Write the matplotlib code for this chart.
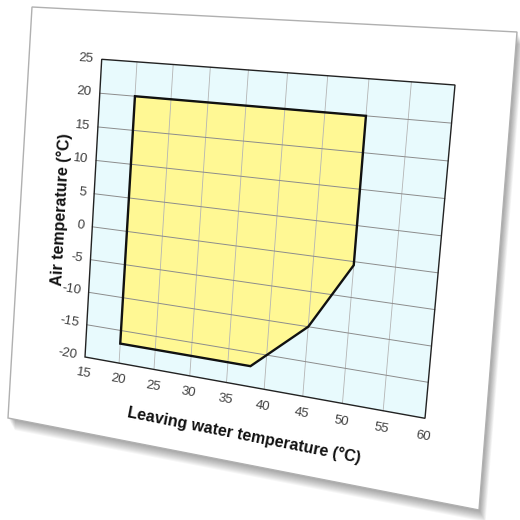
import numpy as np
import matplotlib
matplotlib.use("Agg")
import matplotlib.pyplot as plt
from matplotlib import transforms as mtransforms
from matplotlib.path import Path
from matplotlib.patches import Polygon

# ---------------- data ----------------
lwt_envelope = [20, 50, 50, 45, 38, 20]          # leaving water temperature (°C)
air_envelope = [20, 20, -0.5, -10, -17, -17]     # air temperature (°C)
x_ticks = [15, 20, 25, 30, 35, 40, 45, 50, 55, 60]
y_ticks = [-20, -15, -10, -5, 0, 5, 10, 15, 20, 25]
x_title = "Leaving water temperature (°C)"
y_title = "Air temperature (°C)"

# ---------------- styling / layout ----------------
W = 520
plot_bg = "#e8fafd"
env_fill = "#fff894"
hgrid_col = "#8c8c8c"
vgrid_col = "#b4b4b4"
tick_col = "#404040"
font = ["Liberation Sans", "DejaVu Sans"]

# picture-plane placement of the (tilted) chart: corners of the plot area in pixels
plane_corners_px = [(85, 357), (425, 418.3), (455, 85), (101.7, 59.3)]   # BL, BR, TR, TL
card_px = [(32, 7), (517, 32), (479, 510), (8, 418)]


def homography(src, dst):
    A, b = [], []
    for (x, y), (X, Y) in zip(src, dst):
        A.append([x, y, 1, 0, 0, 0, -X * x, -X * y]); b.append(X)
        A.append([0, 0, 0, x, y, 1, -Y * x, -Y * y]); b.append(Y)
    h = np.linalg.solve(np.array(A, float), np.array(b, float))
    return np.append(h, 1.0).reshape(3, 3)


class Projective(mtransforms.Transform):
    input_dims = 2
    output_dims = 2
    is_separable = False

    def __init__(self, H):
        super().__init__()
        self._H = np.asarray(H, float)

    def transform_non_affine(self, values):
        v = np.asarray(values, float).reshape(-1, 2)
        p = np.column_stack([v, np.ones(len(v))]) @ self._H.T
        return p[:, :2] / p[:, 2:3]

    def transform_path_non_affine(self, path):
        return Path(self.transform_non_affine(path.vertices), path.codes)

    def inverted(self):
        return Projective(np.linalg.inv(self._H))


fig = plt.figure(figsize=(W / 100, W / 100), dpi=100)
fig.patch.set_facecolor("white")
ax = fig.add_axes([0, 0, 1, 1])
ax.set_axis_off()
ax.set_xlim(0, 1)
ax.set_ylim(0, 1)
ax.set_autoscale_on(False)

pix = mtransforms.Affine2D().scale(1 / W, -1 / W).translate(0, 1) + fig.transFigure
H = homography([(0, 0), (1, 0), (1, 1), (0, 1)], plane_corners_px)
xmin, xmax = x_ticks[0], x_ticks[-1]
ymin, ymax = y_ticks[0], y_ticks[-1]
T = (mtransforms.BboxTransformFrom(mtransforms.Bbox.from_extents(xmin, ymin, xmax, ymax))
     + Projective(H) + pix)


def angle(p0, p1):
    a = T.transform(np.array([p0, p1], float))
    d = a[1] - a[0]
    return np.degrees(np.arctan2(d[1], d[0]))


# ---- card with drop shadow ----
card = np.array(card_px, float)
for k in range(1, 12):
    ax.add_patch(Polygon(card + np.array([0.6 * k, 1.1 * k]), closed=True,
                         transform=pix, facecolor="black", edgecolor="none",
                         alpha=0.035, zorder=0.1, clip_on=False))
ax.add_patch(Polygon(card, closed=True, transform=pix, facecolor="white",
                     edgecolor="#b0b0b0", lw=1.0, zorder=0.5, clip_on=False))

# ---- plot area ----
ax.add_patch(Polygon([(xmin, ymin), (xmax, ymin), (xmax, ymax), (xmin, ymax)],
                     closed=True, transform=T, facecolor=plot_bg, edgecolor="none",
                     zorder=1, clip_on=False))

# envelope fill
ax.add_patch(Polygon(np.column_stack([lwt_envelope, air_envelope]), closed=True,
                     transform=T, facecolor=env_fill, edgecolor="none",
                     zorder=2, clip_on=False))

# grid
for xv in x_ticks[1:-1]:
    ax.plot([xv, xv], [ymin, ymax], transform=T, color=vgrid_col, lw=0.6,
            zorder=3, clip_on=False)
for yv in y_ticks[1:-1]:
    ax.plot([xmin, xmax], [yv, yv], transform=T, color=hgrid_col, lw=0.7,
            zorder=3, clip_on=False)

# envelope outline
ax.add_patch(Polygon(np.column_stack([lwt_envelope, air_envelope]), closed=True,
                     transform=T, facecolor="none", edgecolor="#111111", lw=1.7,
                     joinstyle="miter", zorder=4, clip_on=False))

# frame
ax.add_patch(Polygon([(xmin, ymin), (xmax, ymin), (xmax, ymax), (xmin, ymax)],
                     closed=True, transform=T, facecolor="none", edgecolor="#222222",
                     lw=1.0, zorder=5, clip_on=False))

# tick labels
for xv in x_ticks:
    rot = angle((xv - 1, ymin), (xv + 1, ymin))
    ax.text(xv, ymin - 2.5, str(xv), transform=T, ha="center", va="center",
            rotation=rot, rotation_mode="anchor", fontsize=9.5, color=tick_col,
            family=font, zorder=6, clip_on=False)
for yv in y_ticks:
    rot = angle((xmin, yv), (xmin + 2, yv))
    ax.text(xmin - 1.2, yv, str(yv), transform=T, ha="right", va="center",
            rotation=rot, rotation_mode="anchor", fontsize=9.5, color=tick_col,
            family=font, zorder=6, clip_on=False)

# axis titles
ax.text(37.8, ymin - 7.2, x_title, transform=T, ha="center", va="center",
        rotation=angle((36.8, ymin - 7.2), (38.8, ymin - 7.2)), rotation_mode="anchor",
        fontsize=11.5, fontweight="bold", color="#111111", family=font,
        zorder=6, clip_on=False)
ax.text(xmin - 4.7, 2.0, y_title, transform=T, ha="center", va="center",
        rotation=angle((xmin - 4.7, 1.0), (xmin - 4.7, 3.0)), rotation_mode="anchor",
        fontsize=11.5, fontweight="bold", color="#111111", family=font,
        zorder=6, clip_on=False)

fig.savefig("out.png", dpi=100, facecolor="white")
